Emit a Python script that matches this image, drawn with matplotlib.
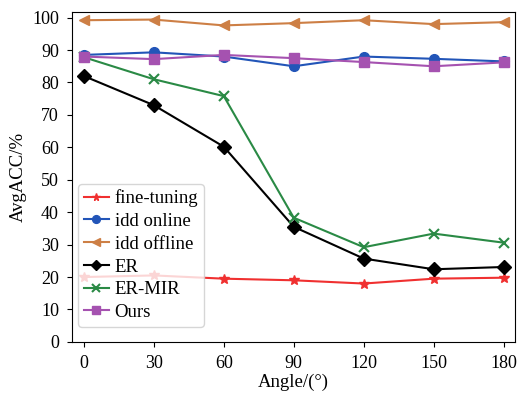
import matplotlib
matplotlib.use("Agg")
import matplotlib.pyplot as plt

angles = [0, 30, 60, 90, 120, 150, 180]
fine_tuning = [20.0, 20.5, 19.5, 19.0, 18.0, 19.5, 19.8]
idd_online = [88.5, 89.3, 88.0, 85.0, 88.0, 87.3, 86.5]
idd_offline = [99.2, 99.4, 97.6, 98.3, 99.2, 98.0, 98.6]
er = [82.0, 73.0, 60.2, 35.5, 25.7, 22.4, 23.1]
er_mir = [87.8, 81.0, 75.8, 38.3, 29.2, 33.4, 30.6]
ours = [88.0, 87.2, 88.5, 87.5, 86.3, 85.0, 86.2]

plt.rcParams["font.family"] = ["Liberation Serif", "DejaVu Serif"]

fig = plt.figure(figsize=(5.19, 3.93), dpi=100)
ax = fig.add_axes([0.139, 0.130, 0.854, 0.840])

ax.plot(angles, fine_tuning, color="#f03030", marker="*", markersize=7, lw=1.5, label="fine-tuning")
ax.plot(angles, idd_online, color="#2255b8", marker="o", markersize=7, lw=1.5, label="idd online")
ax.plot(angles, idd_offline, color="#cd7f45", marker="<", markersize=7, lw=1.5, label="idd offline")
ax.plot(angles, er, color="black", marker="D", markersize=7, lw=1.5, label="ER")
ax.plot(angles, er_mir, color="#2a8a45", marker="x", markersize=7, mew=1.5, lw=1.5, label="ER-MIR")
ax.plot(angles, ours, color="#a552b0", marker="s", markersize=7, lw=1.5, label="Ours")

ax.set_xlim(-5, 185)
ax.set_ylim(0, 101.8)
ax.set_xticks(angles)
ax.set_yticks(range(0, 101, 10))
ax.tick_params(labelsize=13, pad=6)
ax.set_xlabel("Angle/(°)", fontsize=13.5, labelpad=1)
ax.set_ylabel("AvgACC/%", fontsize=13.5, labelpad=4)

ax.legend(loc="upper left", bbox_to_anchor=(0.0135, 0.479), borderaxespad=0,
          fontsize=13.5, handlelength=1.35, handletextpad=0.3, borderpad=0.3,
          labelspacing=0.3, markerscale=0.8, framealpha=0.8)

fig.savefig("out.png", dpi=100)
